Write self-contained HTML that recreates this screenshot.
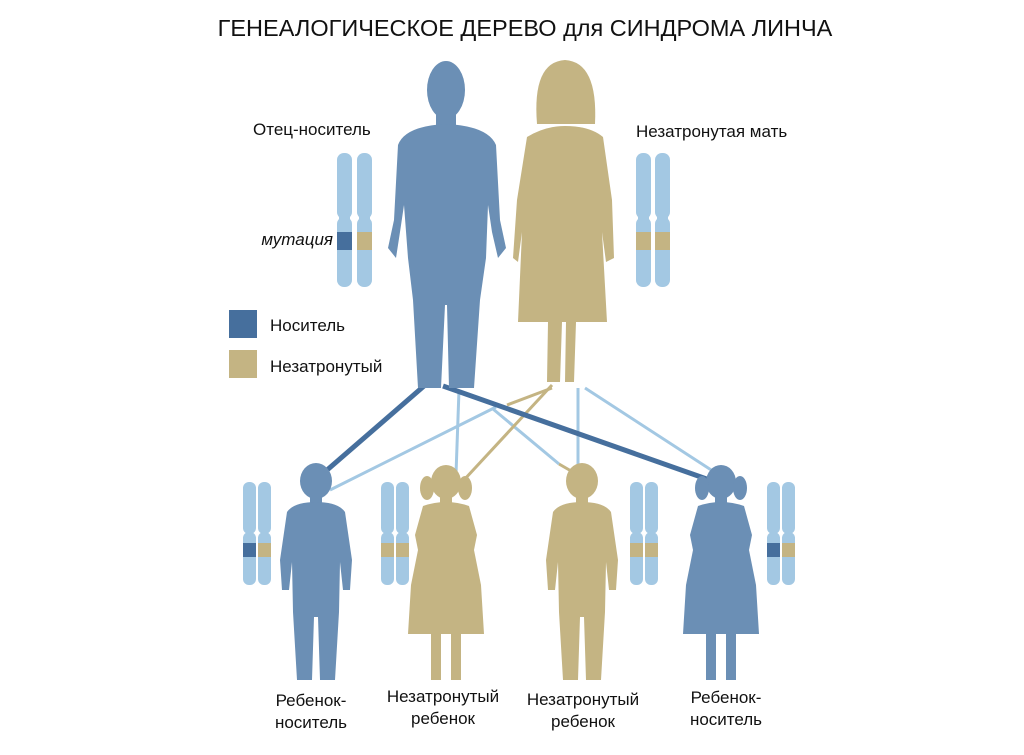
<!DOCTYPE html>
<html><head><meta charset="utf-8"><style>
body{margin:0;background:#fff;width:1024px;height:750px;overflow:hidden}
text{font-family:"Liberation Sans",sans-serif;fill:#111}
</style></head><body>
<svg width="1024" height="750" viewBox="0 0 1024 750" xmlns="http://www.w3.org/2000/svg">
<defs>
<g id="chrP"><rect x="0" y="0" width="15" height="66" rx="7" fill="#a3c8e3"/><rect x="0" y="64" width="15" height="70" rx="7" fill="#a3c8e3"/><rect x="2" y="58" width="11" height="12" fill="#a3c8e3"/></g>
<g id="chrC"><rect x="0" y="0" width="13" height="52" rx="6" fill="#a3c8e3"/><rect x="0" y="50" width="13" height="53" rx="6" fill="#a3c8e3"/></g>
<g id="boy"><ellipse cx="0" cy="481" rx="16" ry="18"/><rect x="-6" y="495" width="12" height="10"/>
<path d="M-29,512 Q-22,502 0,502 Q22,502 29,512 L36,560 L34,590 L27,590 L24,562 L23,612 L19,680 L4,680 L2,617 L-2,617 L-4,680 L-19,680 L-23,612 L-24,562 L-27,590 L-34,590 L-36,560 Z"/></g>
<g id="girl"><ellipse cx="0" cy="482" rx="15" ry="17"/><ellipse cx="-19" cy="488" rx="7" ry="12"/><ellipse cx="19" cy="488" rx="7" ry="12"/><rect x="-6" y="495" width="12" height="10"/>
<path d="M-23,506 Q0,498 23,506 L31,535 L28,550 L35,585 L38,634 L-38,634 L-35,585 L-28,550 L-31,535 Z"/>
<rect x="-15" y="628" width="10" height="52"/><rect x="5" y="628" width="10" height="52"/></g>
</defs>
<text x="525" y="36" font-size="23.5" text-anchor="middle">ГЕНЕАЛОГИЧЕСКОЕ ДЕРЕВО для СИНДРОМА ЛИНЧА</text>
<g fill="none" stroke-width="3" stroke="#a3c8e3">
<line x1="459" y1="390" x2="456" y2="474"/>
<line x1="496" y1="407" x2="330" y2="490"/>
<line x1="493" y1="409" x2="559" y2="464"/>
<line x1="578" y1="388" x2="578" y2="466"/>
<line x1="585" y1="388" x2="722" y2="477"/>
</g>
<g fill="none" stroke-width="3" stroke="#c4b483">
<line x1="552" y1="385" x2="463" y2="481"/>
<line x1="552" y1="388" x2="507" y2="405"/>
<line x1="559" y1="464" x2="578" y2="475"/>
</g>
<g fill="none" stroke-width="5" stroke="#466f9d">
<line x1="424" y1="386" x2="319" y2="477"/>
<line x1="443" y1="386" x2="718" y2="483"/>
</g>
<g fill="#6b8fb5">
<ellipse cx="446" cy="90" rx="19" ry="29"/><rect x="436" y="108" width="20" height="22"/>
<path d="M398,145 Q405,126 446,124 Q488,126 496,145 L500,220 L506,248 L498,258 L492,232 L488,205 L486,258 L480,300 L474,388 L449,388 L447,305 L445,305 L441,388 L418,388 L413,300 L408,258 L404,205 L400,232 L396,258 L388,248 L394,220 Z"/>
</g>
<g fill="#c4b483">
<path d="M537,124 Q532,62 565,60 Q598,62 595,124 Z"/>
<path d="M527,137 Q545,126 565,126 Q590,126 603,137 L612,200 L614,258 L606,262 L602,232 L607,322 L576,322 L574,382 L565,382 L566,322 L562,322 L560,382 L547,382 L548,322 L518,322 L522,232 L518,262 L513,258 L517,200 Z"/>
</g>
<use href="#chrP" x="337" y="153"/><use href="#chrP" x="357" y="153"/>
<rect x="337" y="232" width="15" height="18" fill="#466f9d"/><rect x="357" y="232" width="15" height="18" fill="#c4b483"/>
<use href="#chrP" x="636" y="153"/><use href="#chrP" x="655" y="153"/>
<rect x="636" y="232" width="15" height="18" fill="#c4b483"/><rect x="655" y="232" width="15" height="18" fill="#c4b483"/>
<g font-size="17">
<text x="253" y="135">Отец-носитель</text>
<text x="636" y="137">Незатронутая мать</text>
<text x="333" y="245" font-style="italic" text-anchor="end">мутация</text>
<text x="270" y="331">Носитель</text>
<text x="270" y="372">Незатронутый</text>
</g>
<rect x="229" y="310" width="28" height="28" fill="#466f9d"/>
<rect x="229" y="350" width="28" height="28" fill="#c4b483"/>
<use href="#boy" x="316" fill="#6b8fb5"/>
<use href="#girl" x="446" fill="#c4b483"/>
<use href="#boy" x="582" fill="#c4b483"/>
<use href="#girl" x="721" fill="#6b8fb5"/>
<use href="#chrC" x="243" y="482"/><use href="#chrC" x="258" y="482"/>
<rect x="243" y="543" width="13" height="14" fill="#466f9d"/><rect x="258" y="543" width="13" height="14" fill="#c4b483"/>
<use href="#chrC" x="381" y="482"/><use href="#chrC" x="396" y="482"/>
<rect x="381" y="543" width="13" height="14" fill="#c4b483"/><rect x="396" y="543" width="13" height="14" fill="#c4b483"/>
<use href="#chrC" x="630" y="482"/><use href="#chrC" x="645" y="482"/>
<rect x="630" y="543" width="13" height="14" fill="#c4b483"/><rect x="645" y="543" width="13" height="14" fill="#c4b483"/>
<use href="#chrC" x="767" y="482"/><use href="#chrC" x="782" y="482"/>
<rect x="767" y="543" width="13" height="14" fill="#466f9d"/><rect x="782" y="543" width="13" height="14" fill="#c4b483"/>
<g font-size="17" text-anchor="middle">
<text x="311" y="706">Ребенок-</text><text x="311" y="728">носитель</text>
<text x="443" y="702">Незатронутый</text><text x="443" y="724">ребенок</text>
<text x="583" y="705">Незатронутый</text><text x="583" y="727">ребенок</text>
<text x="726" y="703">Ребенок-</text><text x="726" y="725">носитель</text>
</g>
</svg>
</body></html>
